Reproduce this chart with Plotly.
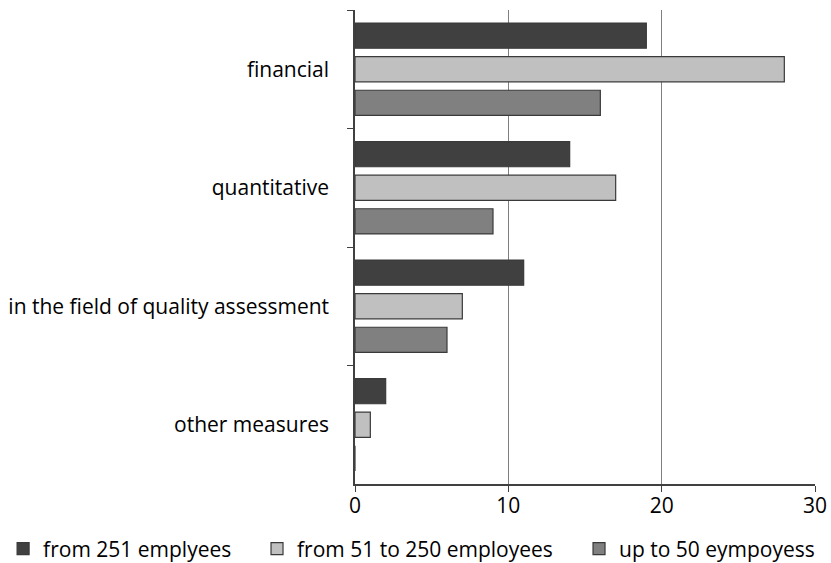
import plotly.graph_objects as go

categories = ["financial", "quantitative", "in the field of quality assessment", "other measures"]
series_names = ["from 251 emplyees", "from 51 to 250 employees", "up to 50 eympoyess"]
large = [19, 14, 11, 2]
medium = [28, 17, 7, 1]
small = [16, 9, 6, 0]
tick_vals = [0, 10, 20, 30]

colors = ["#404040", "#c0c0c0", "#808080"]
values = [large, medium, small]
legend_ids = ["legend", "legend2", "legend3"]
legend_x = [-0.765, -0.213, 0.487]

font = dict(family="Open Sans, Noto Sans, sans-serif", size=21, color="#000000")

fig = go.Figure()
for name, vals, col, lid in zip(series_names, values, colors, legend_ids):
    fig.add_trace(go.Bar(
        y=categories, x=vals, name=name, orientation="h", legend=lid,
        marker=dict(color=col, line=dict(color="#3a3a3a", width=1.2)),
    ))

legends = {}
for lid, lx in zip(legend_ids, legend_x):
    legends[lid] = dict(orientation="h", x=lx, xanchor="left", y=-0.137, yanchor="middle",
                        font=font, itemwidth=30, bgcolor="rgba(0,0,0,0)")

fig.update_layout(
    width=831, height=563,
    margin=dict(l=355, r=16, t=10, b=79, autoexpand=False),
    paper_bgcolor="white", plot_bgcolor="white",
    font=font,
    barmode="group", bargap=0.15, bargroupgap=0.25,
    showlegend=True,
    xaxis=dict(range=[0, 30], tickvals=tick_vals, showgrid=True, gridcolor="#7f7f7f", gridwidth=1,
               showline=True, linecolor="#404040", linewidth=1.5, ticks="outside", ticklen=6,
               tickcolor="#404040", zeroline=False, ticklabelstandoff=-4),
    yaxis=dict(autorange="reversed", showline=True, linecolor="#404040", linewidth=1.5,
               ticks="outside", ticklen=6, tickcolor="#404040", tickson="boundaries",
               ticklabelstandoff=20),
    **legends,
)
fig.write_html("out.html")
